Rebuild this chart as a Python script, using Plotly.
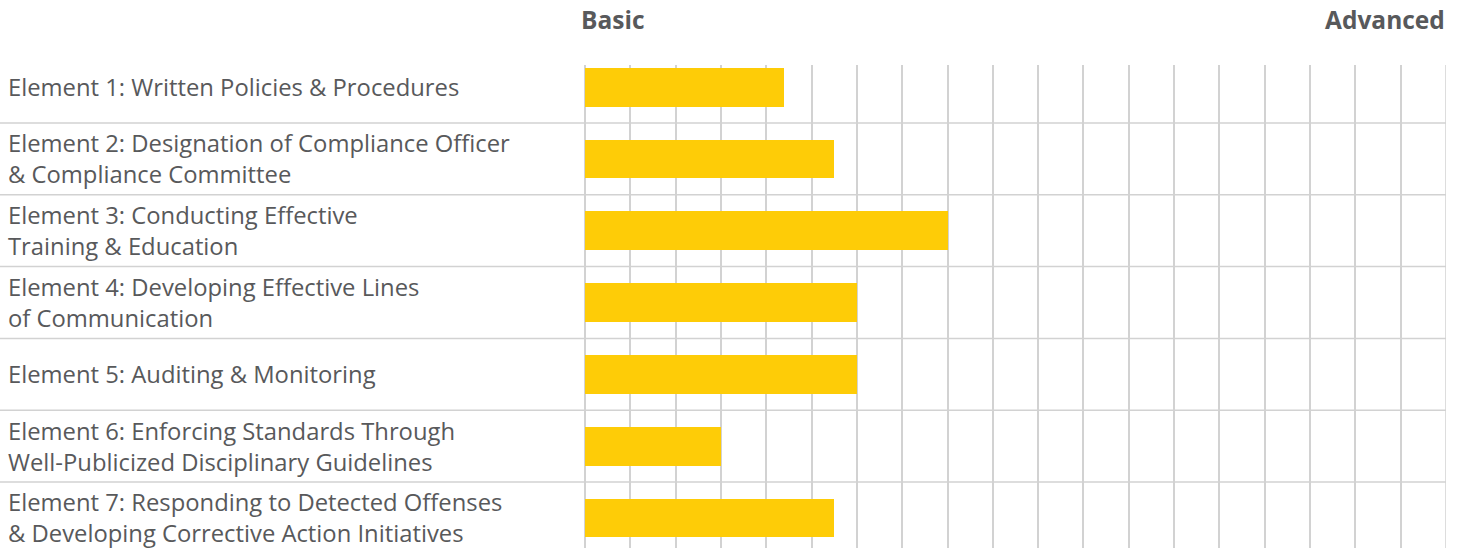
import plotly.graph_objects as go

categories = [
    "Element 1: Written Policies & Procedures",
    "Element 2: Designation of Compliance Officer<br>& Compliance Committee",
    "Element 3: Conducting Effective<br>Training & Education",
    "Element 4: Developing Effective Lines<br>of Communication",
    "Element 5: Auditing & Monitoring",
    "Element 6: Enforcing Standards Through<br>Well-Publicized Disciplinary Guidelines",
    "Element 7: Responding to Detected Offenses<br>& Developing Corrective Action Initiatives",
]
scores = [4.4, 5.5, 8, 6, 6, 3, 5.5]
scale_max = 19
header_left = "Basic"
header_right = "Advanced"

W, H = 1465, 548
ML, MR, MT, MB = 585, 19, 65, 0
plot_w = W - ML - MR
plot_h = H - MT - MB

TEXT = "#58595b"
GRID = "#d2d2d2"
BAR = "#FECC07"

idx = list(range(len(categories)))

fig = go.Figure()
fig.add_trace(go.Bar(
    y=idx, x=scores, orientation="h",
    marker=dict(color=BAR, line=dict(width=0)),
    width=0.54, hoverinfo="skip",
))

# row separators
for k in range(len(categories) - 1):
    fig.add_shape(type="line", xref="paper", yref="y",
                  x0=-ML / plot_w, x1=1, y0=k + 0.5, y1=k + 0.5,
                  line=dict(color=GRID, width=1.5), layer="below")

# labels
for i, c in zip(idx, categories):
    fig.add_annotation(xref="paper", yref="y", x=(6 - ML) / plot_w, y=i,
                       text=c, showarrow=False, xanchor="left", yanchor="middle",
                       align="left", font=dict(family="Open Sans", size=23.8, color=TEXT))

hy = 1 + (MT - 20) / plot_h
fig.add_annotation(xref="paper", yref="paper", x=-6 / plot_w, y=hy,
                   text="<b>" + header_left + "</b>", showarrow=False,
                   xanchor="left", yanchor="middle",
                   font=dict(family="Open Sans", size=24.5, color=TEXT))
fig.add_annotation(xref="paper", yref="paper", x=1 + 1 / plot_w, y=hy,
                   text="<b>" + header_right + "</b>", showarrow=False,
                   xanchor="right", yanchor="middle",
                   font=dict(family="Open Sans", size=24.5, color=TEXT))

fig.update_xaxes(range=[0, scale_max], dtick=1, tick0=0, showgrid=True,
                 gridcolor=GRID, gridwidth=1.5, zeroline=True, zerolinecolor=GRID,
                 zerolinewidth=1.5, showticklabels=False, ticks="", showline=False,
                 fixedrange=True)
fig.update_yaxes(range=[6.419, -0.308], showgrid=False, zeroline=False,
                 showticklabels=False, ticks="", showline=False, fixedrange=True)

# right edge line
fig.add_shape(type="line", xref="x", yref="paper", x0=scale_max, x1=scale_max, y0=0, y1=1,
              line=dict(color=GRID, width=1.5), layer="below")

fig.update_layout(width=W, height=H, margin=dict(l=ML, r=MR, t=MT, b=MB),
                  plot_bgcolor="white", paper_bgcolor="white", showlegend=False,
                  bargap=0)
fig.write_html("out.html", config={"displayModeBar": False},
               post_script="document.body.style.margin='0';")
